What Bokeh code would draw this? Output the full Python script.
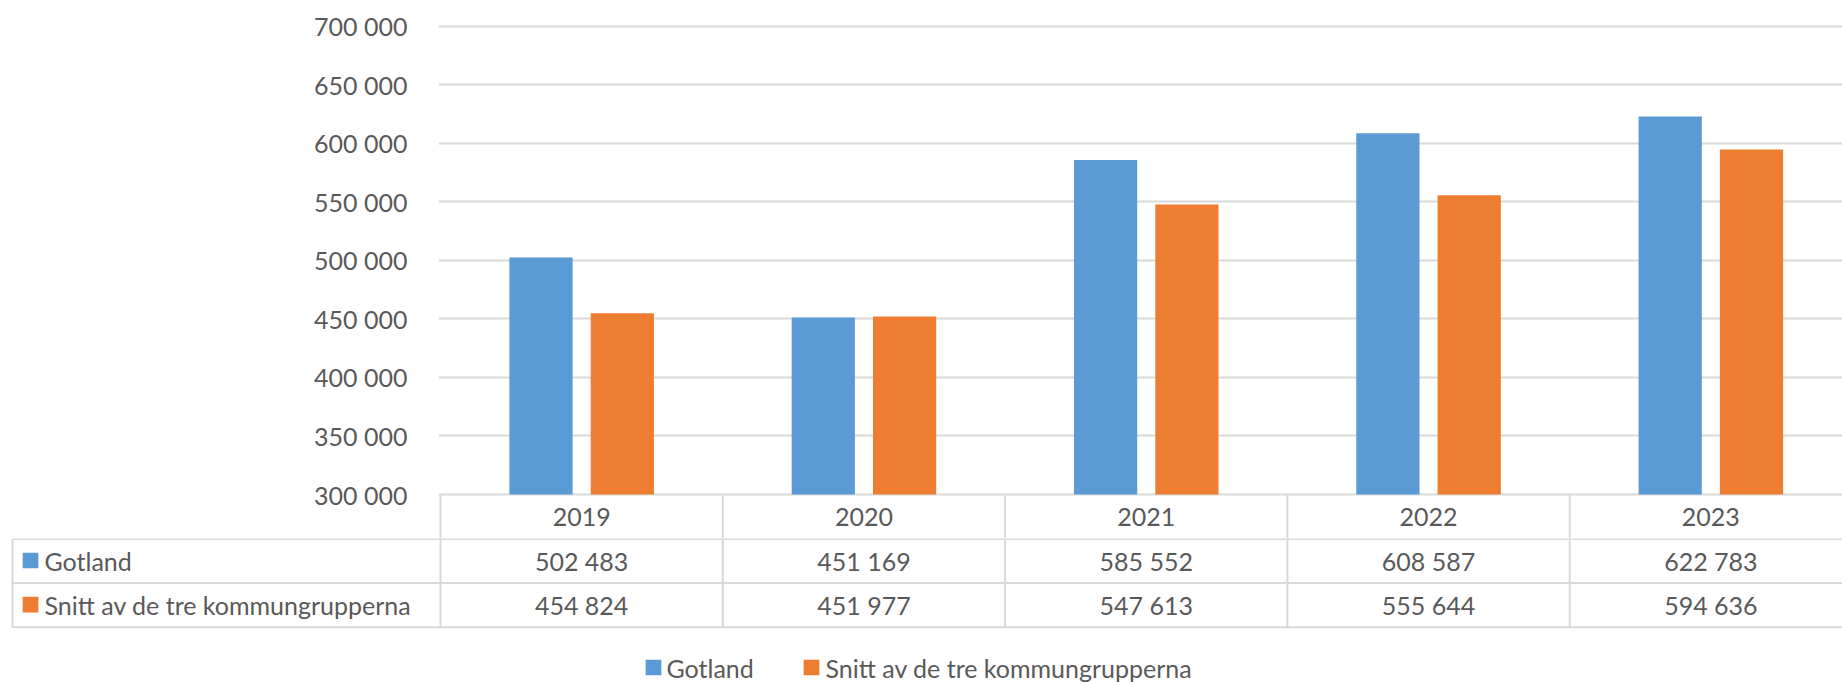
from bokeh.plotting import figure
from bokeh.layouts import column
from bokeh.models import Range1d, FixedTicker
from bokeh.core.properties import value
from bokeh.embed import file_html
from bokeh.resources import INLINE

# ---------------- data ----------------
years = ["2019", "2020", "2021", "2022", "2023"]
series_names = ["Gotland", "Snitt av de tre kommungrupperna"]
gotland = [502483, 451169, 585552, 608587, 622783]
snitt = [454824, 451977, 547613, 555644, 594636]
y_ticks = [300000, 350000, 400000, 450000, 500000, 550000, 600000, 650000, 700000]

# ---------------- style ----------------
BLUE = "#5b9bd5"
ORANGE = "#ed7d31"
TXT = "#595959"
GRID = "#d9d9d9"
FONT = value("Lato")
FS = "25px"

def fmt(v):
    return f"{v:,}".replace(",", " ")

# ---------------- layout constants (page px) ----------------
FIG_W = 1842
CAT_LEFT = 440.0           # page x of the first category boundary
FRAME_LEFT = 438           # page x of the bar frame's left edge
CAT_W = 282.3              # px per category
RIGHT = FIG_W
AXIS_BOTTOM = 494.0        # page y of the 300 000 line
HEADER_H = 44.0            # height of the year header row
H_A = int(AXIS_BOTTOM + HEADER_H)
H_B = 682 - H_A
PX_PER_UNIT = 58.55 / 50000.0

def u(page_x):
    return -0.5 + (page_x - CAT_LEFT) / CAT_W

y0 = y_ticks[0]
y_start = y0 - (H_A - AXIS_BOTTOM) / PX_PER_UNIT
y_end = y0 + AXIS_BOTTOM / PX_PER_UNIT

# ---------------- bar chart + header row ----------------
pA = figure(width=FIG_W, height=H_A, output_backend="svg", toolbar_location=None,
            x_range=Range1d(u(FRAME_LEFT), u(RIGHT)), y_range=Range1d(y_start, y_end),
            x_axis_location=None, min_border_left=FRAME_LEFT,
            min_border_right=0, min_border_top=0, min_border_bottom=0)
pA.frame_align = False
pA.outline_line_color = None
pA.xgrid.visible = False
pA.ygrid.ticker = FixedTicker(ticks=y_ticks)
pA.ygrid.grid_line_color = GRID
pA.ygrid.grid_line_width = 2
ax = pA.yaxis[0]
ax.ticker = FixedTicker(ticks=y_ticks)
ax.major_label_overrides = {t: fmt(t) for t in y_ticks}
ax.axis_line_color = None
ax.major_tick_line_color = None
ax.minor_tick_line_color = None
ax.major_label_standoff = 25
ax.major_label_text_font = "Lato"
ax.major_label_text_font_size = FS
ax.major_label_text_color = TXT

off = 0.144
bw = 0.224
xs = list(range(len(years)))
pA.vbar(x=[i - off for i in xs], top=gotland, bottom=y0, width=bw,
        fill_color=BLUE, line_color=None)
pA.vbar(x=[i + off for i in xs], top=snitt, bottom=y0, width=bw,
        fill_color=ORANGE, line_color=None)

# header row (years) drawn below the 300 000 line
vx = [i - 0.5 for i in range(len(years) + 1)]
pA.segment(x0=vx, y0=[y_start] * len(vx), x1=vx, y1=[y0] * len(vx),
           line_color=GRID, line_width=2)
tkw = dict(text_font=FONT, text_font_size=FS, text_color=TXT, text_baseline="middle")
year_y = y0 - (HEADER_H / 2) / PX_PER_UNIT
pA.text(x=xs, y=[year_y] * len(xs), text=years, text_align="center", **tkw)

# ---------------- data rows + legend ----------------
pB = figure(width=FIG_W, height=H_B, output_backend="svg", toolbar_location=None,
            x_range=Range1d(u(0), u(RIGHT)), y_range=Range1d(H_B, 0),
            x_axis_location=None, y_axis_location=None,
            min_border_left=0, min_border_right=0, min_border_top=0, min_border_bottom=0)
pB.frame_align = False
pB.outline_line_color = None
pB.grid.visible = False

row_y = [0.5, 44.5, 88.7]       # row lines (relative to top of this panel)
tbl_left = u(12)
far = u(RIGHT) + 1
pB.segment(x0=[tbl_left] * 3, y0=row_y, x1=[far] * 3, y1=row_y, line_color=GRID, line_width=2)
vxb = [tbl_left] + vx
pB.segment(x0=vxb, y0=[row_y[0]] * len(vxb), x1=vxb, y1=[row_y[2]] * len(vxb),
           line_color=GRID, line_width=2)

mid = [(row_y[k] + row_y[k + 1]) / 2 for k in range(2)]
pB.text(x=xs, y=[mid[0]] * len(xs), text=[fmt(v) for v in gotland], text_align="center", **tkw)
pB.text(x=xs, y=[mid[1]] * len(xs), text=[fmt(v) for v in snitt], text_align="center", **tkw)
# row headers
pB.scatter(x=[u(30)] * 2, y=[m - 0.5 for m in mid], marker="square", size=15.7,
           fill_color=[BLUE, ORANGE], line_color=None)
pB.text(x=[u(44)] * 2, y=mid, text=series_names, text_align="left", **tkw)

# bottom legend
ly = 129
pB.scatter(x=[u(653), u(811)], y=[ly, ly], marker="square", size=15.7,
           fill_color=[BLUE, ORANGE], line_color=None)
pB.text(x=[u(666), u(825)], y=[ly + 0.5] * 2, text=series_names, text_align="left", **tkw)

layout = column(pA, pB, spacing=0)
open("out.html", "w").write(file_html(layout, INLINE))
